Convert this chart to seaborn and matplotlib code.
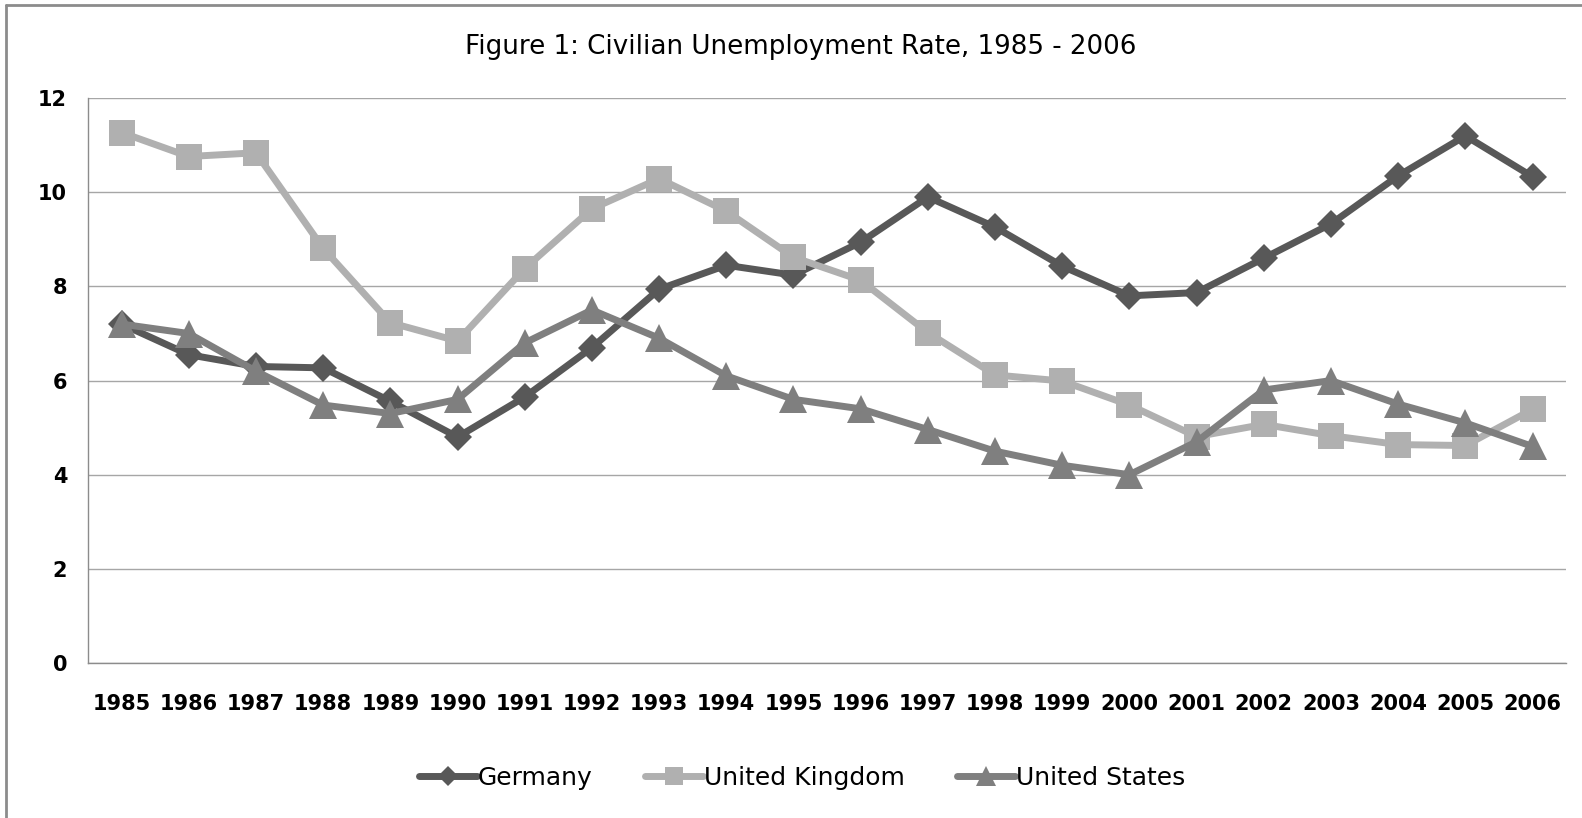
"""
Civilian unemployment rate, 1985 - 2006 (Germany, UK, US)
"""

import pandas as pd
import matplotlib.pyplot as plt
import seaborn as sns
from matplotlib.lines import Line2D

sns.set_style("white")
plt.rcParams['font.family'] = ['DejaVu Sans']
plt.rcParams['text.color'] = 'black'
plt.rcParams['xtick.labelcolor'] = 'black'
plt.rcParams['ytick.labelcolor'] = 'black'

# Data
years = [str(y) for y in range(1985, 2007)]
germany = [7.2, 6.55, 6.3, 6.27, 5.56, 4.8, 5.65, 6.7, 7.94, 8.45, 8.24,
           8.94, 9.9, 9.26, 8.43, 7.8, 7.87, 8.6, 9.33, 10.35, 11.2, 10.33]
united_kingdom = [11.27, 10.76, 10.84, 8.81, 7.23, 6.84, 8.38, 9.65, 10.29, 9.6, 8.62,
                  8.13, 7.02, 6.12, 5.99, 5.48, 4.81, 5.07, 4.83, 4.64, 4.62, 5.39]
united_states = [7.2, 7.0, 6.2, 5.48, 5.3, 5.6, 6.8, 7.5, 6.9, 6.1, 5.6,
                 5.4, 4.96, 4.5, 4.2, 4.0, 4.7, 5.8, 6.0, 5.5, 5.1, 4.6]
y_ticks = [0, 2, 4, 6, 8, 10, 12]

series = {
    'Germany': germany,
    'United Kingdom': united_kingdom,
    'United States': united_states,
}
STYLE = {
    'Germany': dict(color='#585858', marker='D', markersize=14.5),
    'United Kingdom': dict(color='#b0b0b0', marker='s', markersize=19),
    'United States': dict(color='#7f7f7f', marker='^', markersize=20),
}

df = pd.DataFrame([
    {'year': yr, 'pos': i, 'country': name, 'value': v}
    for name, vals in series.items()
    for i, (yr, v) in enumerate(zip(years, vals))
])

fig = plt.figure(figsize=(15.82, 8.18), dpi=100)
ax = fig.add_axes([0.0556, 0.1895, 0.9344, 0.6905])

for name in series:
    d = df[df['country'] == name]
    st = STYLE[name]
    sns.lineplot(data=d, x='pos', y='value', ax=ax, color=st['color'],
                 linewidth=5, marker=st['marker'], markersize=st['markersize'],
                 markeredgewidth=0, legend=False)

ax.set_xlim(-0.5, len(years) - 0.5)
ax.set_ylim(0, 12)
ax.set_yticks(y_ticks)
ax.set_yticklabels([str(t) for t in y_ticks], fontsize=15, fontweight='bold')
ax.set_xticks(range(len(years)))
ax.set_xticklabels(years, fontsize=15, fontweight='bold')
ax.set_xticks([i - 0.5 for i in range(len(years) + 1)], minor=True)
ax.tick_params(axis='x', which='major', length=0, pad=22)
ax.tick_params(axis='x', which='minor', length=7, width=1, color='#8c8c8c', direction='out')
ax.tick_params(axis='y', length=7, width=1, color='#8c8c8c', direction='out', pad=8)
ax.set_xlabel('')
ax.set_ylabel('')
ax.grid(True, axis='y', color='#a6a6a6', linewidth=1)
ax.grid(False, axis='x')
ax.set_axisbelow(True)
for side in ['top', 'right']:
    ax.spines[side].set_visible(False)
for side in ['left', 'bottom']:
    ax.spines[side].set_color('#8c8c8c')
    ax.spines[side].set_linewidth(1)

fig.text(0.506, 0.942, 'Figure 1: Civilian Unemployment Rate, 1985 - 2006',
         ha='center', va='center', fontsize=18.8)

handles = [Line2D([0], [0], color=STYLE[n]['color'], linewidth=5,
                  marker=STYLE[n]['marker'],
                  markersize=STYLE[n]['markersize'] * 0.7, markeredgewidth=0)
           for n in series]
fig.legend(handles, list(series.keys()), loc='center', bbox_to_anchor=(0.507, 0.049),
           ncol=3, frameon=False, fontsize=18, handlelength=2.3,
           handletextpad=0.05, columnspacing=2.1)

# chart border: only the top and left edges show in the reference
fig.add_artist(Line2D([0.0035, 1.0], [0.9935, 0.9935], transform=fig.transFigure,
                      color='#8c8c8c', linewidth=2))
fig.add_artist(Line2D([0.0035, 0.0035], [0.0, 0.9935], transform=fig.transFigure,
                      color='#8c8c8c', linewidth=2))

plt.savefig('out.png', dpi=100)
